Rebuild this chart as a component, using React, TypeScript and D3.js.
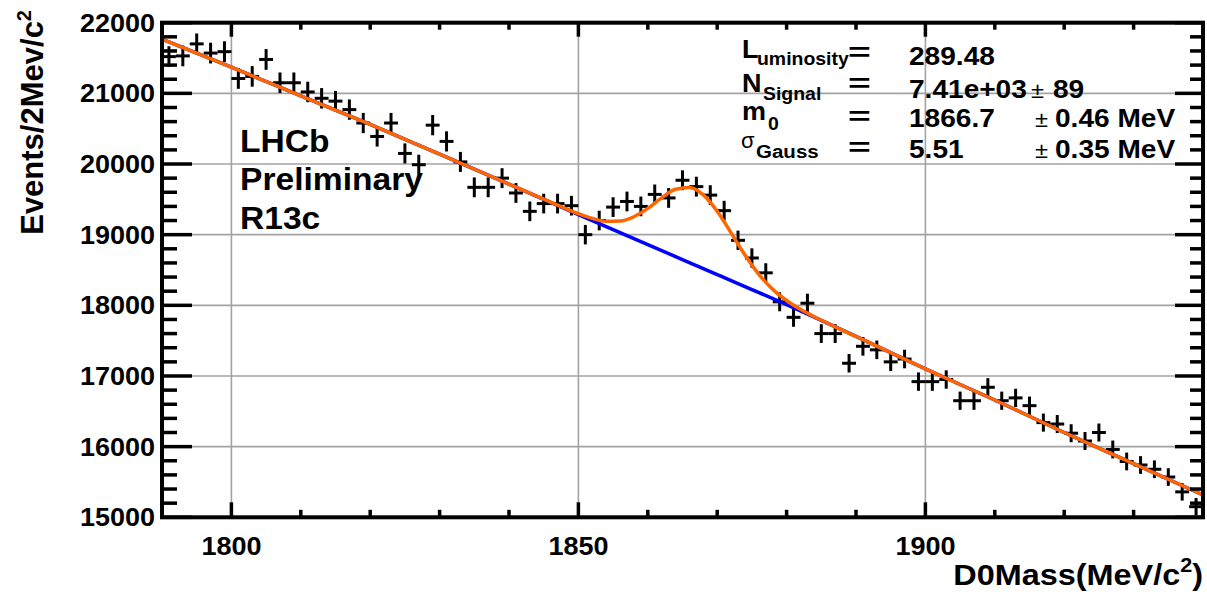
import React from "react";
import * as d3 from "d3";

// bin centres (2 MeV bins) and event counts
const massBins = [
  1791, 1793, 1795, 1797, 1799, 1801, 1803, 1805, 1807, 1809,
  1811, 1813, 1815, 1817, 1819, 1821, 1823, 1825, 1827, 1829,
  1831, 1833, 1835, 1837, 1839, 1841, 1843, 1845, 1847, 1849,
  1851, 1853, 1855, 1857, 1859, 1861, 1863, 1865, 1867, 1869,
  1871, 1873, 1875, 1877, 1879, 1881, 1883, 1885, 1887, 1889,
  1891, 1893, 1895, 1897, 1899, 1901, 1903, 1905, 1907, 1909,
  1911, 1913, 1915, 1917, 1919, 1921, 1923, 1925, 1927, 1929,
  1931, 1933, 1935, 1937, 1939,
];
const events = [
  21520, 21530, 21700, 21570, 21590, 21210, 21240, 21480, 21150, 21150,
  21020, 20930, 20890, 20770, 20580, 20390, 20580, 20150, 19990, 20550,
  20320, 20030, 19670, 19670, 19800, 19590, 19330, 19440, 19440, 19410,
  19000, 19200, 19390, 19470, 19400, 19570, 19520, 19770, 19680, 19560,
  19340, 18920, 18670, 18460, 18050, 17830, 18030, 17600, 17600, 17180,
  17420, 17370, 17200, 17240, 16920, 16920, 16950, 16650, 16650, 16840,
  16650, 16690, 16580, 16340, 16320, 16190, 16080, 16200, 15960, 15790,
  15740, 15680, 15570, 15360, 15150,
];

// background component (blue)
const bkgMass = [1790, 1800, 1810, 1820, 1830, 1840, 1850, 1860, 1870, 1880, 1890, 1900, 1910, 1920, 1930, 1940];
const bkgValues = [21769, 21370, 20965, 20560, 20140, 19715, 19285, 18860, 18435, 18010, 17560, 17100, 16660, 16200, 15760, 15316];

// total fit (orange)
const fitMass = [
  1790, 1800, 1810, 1820, 1830, 1840, 1846, 1850, 1852, 1854, 1856, 1858, 1860, 1862, 1864,
  1866, 1868, 1870, 1872, 1874, 1876, 1878, 1880, 1882, 1884, 1886, 1890, 1900, 1910, 1920, 1930, 1940,
];
const fitValues = [
  21769, 21370, 20965, 20560, 20140, 19715, 19460, 19296, 19231, 19190, 19193, 19254, 19372, 19521, 19642,
  19669, 19564, 19332, 19026, 18711, 18438, 18226, 18068, 17943, 17838, 17742, 17560, 17100, 16660, 16200, 15760, 15316,
];

const xMajor = [1800, 1850, 1900];
const xMinor = [1790, 1800, 1810, 1820, 1830, 1840, 1850, 1860, 1870, 1880, 1890, 1900, 1910, 1920, 1930, 1940];
const yMajor = [15000, 16000, 17000, 18000, 19000, 20000, 21000, 22000];
const yMinor = d3.range(15000, 22001, 200);

const FONT = "'Liberation Sans', Arial, Helvetica, sans-serif";

const T = ({ x, y, size, anchor = "start", sx = 1.08, weight = "bold", children }: any) => (
  <text
    transform={`translate(${x},${y}) scale(${sx},1)`}
    fontSize={size}
    textAnchor={anchor}
    fontWeight={weight}
    fontFamily={FONT}
    fill="#000"
  >
    {children}
  </text>
);

export default function App() {
  const W = 1207;
  const H = 595;
  const left = 162, right = 1203, top = 22.7, bottom = 517.3;

  const x = d3.scaleLinear().domain([1790, 1940]).range([left, right]);
  const y = d3.scaleLinear().domain([15000, 22000]).range([bottom, top]);

  const bkgLine = d3
    .line<number>()
    .x((_, i) => x(bkgMass[i]))
    .y((d) => y(d))
    .curve(d3.curveMonotoneX);
  const fitLine = d3
    .line<number>()
    .x((_, i) => x(fitMass[i]))
    .y((d) => y(d))
    .curve(d3.curveMonotoneX);

  return (
    <svg width={W} height={H} style={{ position: "absolute", left: 0, top: 0, background: "#fff" }}>
      <rect width={W} height={H} fill="#fff" />
      {/* grid */}
      <g stroke="#a3a3a3" strokeWidth={1.6}>
        {xMajor.map((v) => (
          <line key={"gx" + v} x1={x(v)} x2={x(v)} y1={top} y2={bottom} />
        ))}
        {yMajor.slice(1, -1).map((v) => (
          <line key={"gy" + v} x1={left} x2={right} y1={y(v)} y2={y(v)} />
        ))}
      </g>

      {/* data points with error bars */}
      <g stroke="#000" strokeWidth={3}>
        {events.map((v, i) => {
          const m = massBins[i];
          const err = Math.sqrt(v);
          return (
            <g key={"p" + i}>
              <line x1={x(m - 1)} x2={x(m + 1)} y1={y(v)} y2={y(v)} />
              <line x1={x(m)} x2={x(m)} y1={Math.min(y(v - err), bottom)} y2={y(v + err)} />
            </g>
          );
        })}
      </g>

      {/* fit curves */}
      <path d={bkgLine(bkgValues) || ""} fill="none" stroke="#0000ff" strokeWidth={3.5} />
      <path d={fitLine(fitValues) || ""} fill="none" stroke="#ff6600" strokeWidth={3.5} />

      {/* ticks */}
      <g stroke="#000" strokeWidth={3.5}>
        {yMinor.map((v) => {
          const major = v % 1000 === 0;
          const l = major ? 30 : 15;
          const r = major ? 28 : 13;
          return (
            <g key={"ty" + v}>
              <line x1={left} x2={left + l} y1={y(v)} y2={y(v)} />
              <line x1={right - r} x2={right} y1={y(v)} y2={y(v)} />
            </g>
          );
        })}
        {xMinor.map((v) => {
          const major = v % 50 === 0;
          const b = major ? 15 : 7.5;
          const t = major ? 14 : 7;
          return (
            <g key={"tx" + v}>
              <line x1={x(v)} x2={x(v)} y1={bottom} y2={bottom - b} />
              <line x1={x(v)} x2={x(v)} y1={top} y2={top + t} />
            </g>
          );
        })}
      </g>

      {/* frame */}
      <rect x={left} y={top} width={right - left} height={bottom - top} fill="none" stroke="#000" strokeWidth={4} />

      {/* tick labels */}
      {yMajor.map((v) => (
        <T key={"ly" + v} x={155} y={y(v) + 9} size={25} anchor="end">
          {v}
        </T>
      ))}
      {xMajor.map((v) => (
        <T key={"lx" + v} x={x(v)} y={555} size={25} anchor="middle">
          {v}
        </T>
      ))}

      {/* axis titles */}
      <text
        transform="translate(43,10) rotate(-90)"
        fontSize={31}
        fontWeight="bold"
        fontFamily={FONT}
        textAnchor="end"
      >
        Events/2Mev/c
        <tspan dy={-12} fontSize={20}>2</tspan>
      </text>
      <T x={1203} y={585} size={30} anchor="end">
        D0Mass(MeV/c
        <tspan dy={-13} fontSize={20}>2</tspan>
        <tspan dy={13}>)</tspan>
      </T>

      {/* LHCb label */}
      <T x={240} y={152} size={32} sx={1.05}>LHCb</T>
      <T x={240} y={190} size={32} sx={1.05}>Preliminary</T>
      <T x={240} y={229} size={32} sx={1.05}>R13c</T>

      {/* fit parameters */}
      <T x={742} y={58} size={25}>L</T>
      <T x={757} y={65} size={18}>uminosity</T>
      <T x={848} y={61} size={26} sx={1.5}>=</T>
      <T x={909} y={65} size={26}>289.48</T>

      <T x={742} y={92} size={25}>N</T>
      <T x={763} y={100} size={18}>Signal</T>
      <T x={848} y={92} size={26} sx={1.5}>=</T>
      <T x={909} y={98} size={26}>7.41e+03</T>
      <T x={1031} y={98} size={22} weight="normal">±</T>
      <T x={1053} y={98} size={26}>89</T>

      <T x={742} y={120} size={25}>m</T>
      <T x={768} y={130} size={18}>0</T>
      <T x={848} y={125} size={26} sx={1.5}>=</T>
      <T x={909} y={127} size={26}>1866.7</T>
      <T x={1035} y={127} size={22} weight="normal">±</T>
      <T x={1055} y={127} size={26}>0.46 MeV</T>

      <T x={741} y={148} size={22} weight="normal" sx={1}>σ</T>
      <T x={756} y={158} size={19}>Gauss</T>
      <T x={848} y={156} size={26} sx={1.5}>=</T>
      <T x={909} y={158} size={26}>5.51</T>
      <T x={1035} y={158} size={22} weight="normal">±</T>
      <T x={1055} y={158} size={26}>0.35 MeV</T>
    </svg>
  );
}
